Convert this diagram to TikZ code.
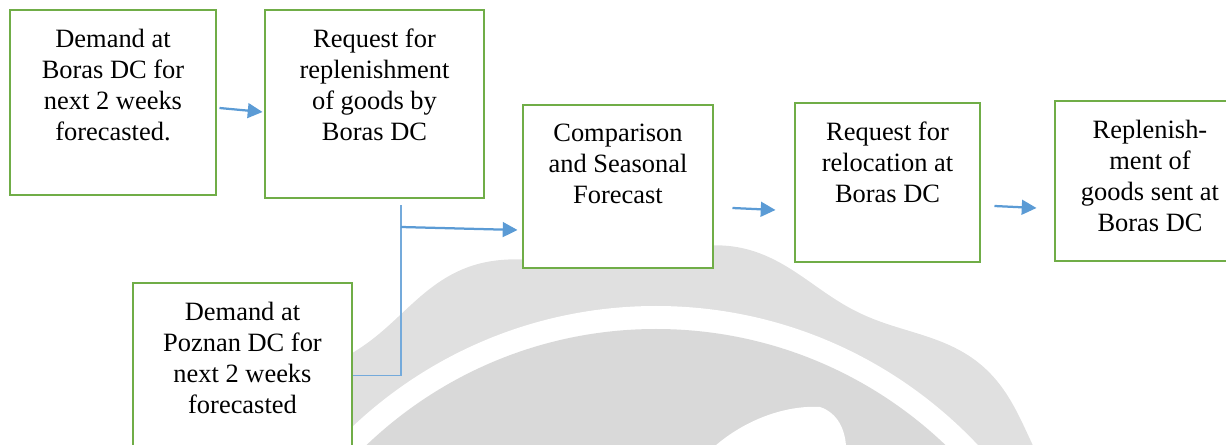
\documentclass[tikz,border=0pt]{standalone}
\usepackage{fontspec}
\setmainfont{Liberation Serif}
\usepackage{tikz}
\usetikzlibrary{positioning,calc,arrows.meta}
\definecolor{boxgreen}{HTML}{70AD47}
\definecolor{flowblue}{HTML}{5B9BD5}
\newcommand{\pxu}{0.025cm}
\tikzset{
  stepbox/.style={draw=boxgreen, line width=2.1pt, fill=white, inner sep=0pt},
  boxtext/.style={align=center, inner sep=0pt, font=\fontsize{18.8}{22}\selectfont},
  flow/.style={draw=flowblue, line width=1.6pt, -{Triangle[length=10.5pt,width=10.5pt]}},
  feed/.style={draw=flowblue!85, line width=0.8pt}
}
\begin{document}
\begin{tikzpicture}[x=0.025cm, y=-0.025cm]
  \useasboundingbox (0,0) rectangle (1226,445);
  \clip (0,0) rectangle (1226,445);
  % Watermark
  \fill[black!12] plot[domain=0:360, samples=361, smooth cycle]
    ({640+(510+12*cos(12*(\x-79)))*cos(\x)}, {760-(510+12*cos(12*(\x-79)))*sin(\x)});
  \fill[white] (656,748) circle (442);
  \fill[black!15] (656,748) circle (419);
  \fill[white] (715,446) .. controls (745,420) and (785,405) .. (820,407)
    .. controls (838,413) and (845,430) .. (846,446) -- cycle;
  % Boxes
  \node[stepbox, minimum width=206*\pxu, minimum height=185*\pxu] (boras) at (113,102.5) {};
  \node[stepbox, minimum width=219*\pxu, minimum height=188*\pxu] (request) at (374.5,104) {};
  \node[stepbox, minimum width=190*\pxu, minimum height=163*\pxu] (compare) at (618,186.5) {};
  \node[stepbox, minimum width=185*\pxu, minimum height=159*\pxu] (relocate) at (887.5,182.5) {};
  \node[stepbox, minimum width=190*\pxu, minimum height=160*\pxu] (replenish) at (1150,181) {};
  \node[stepbox, minimum width=219*\pxu, minimum height=185*\pxu] (poznan) at (242.5,375.5) {};
  % Texts
  \node[boxtext, below=0.51cm of boras.north] (borasT) {Demand at\\Boras DC for\\next 2 weeks\\forecasted.};
  \node[boxtext, below=0.51cm of request.north] (requestT) {Request for\\replenishment\\of goods by\\Boras DC};
  \node[boxtext, below=0.51cm of compare.north] (compareT) {Comparison\\and Seasonal\\Forecast};
  \node[boxtext, below=0.51cm of relocate.north] (relocateT) {Request for\\relocation at\\Boras DC};
  \node[boxtext, below=0.51cm of replenish.north] (replenishT) {Replenish-\\ment of\\goods sent at\\Boras DC};
  \node[boxtext, below=0.51cm of poznan.north] (poznanT) {Demand at\\Poznan DC for\\next 2 weeks\\forecasted};
  % Connectors
  \coordinate (split) at (401,205);
  \coordinate (merge) at (401,227);
  \draw[flow] ($(boras.east)+(2,5.5)$) -- ($(request.west)+(-1,8)$);
  \draw[feed] (poznan.east) -| (split);
  \draw[flow] (merge) -- ($(compare.west)+(-4,43.5)$);
  \draw[flow] ($(compare.east)+(18,21.5)$) -- ($(relocate.west)+(-18,27.5)$);
  \draw[flow] ($(relocate.east)+(13,23.5)$) -- ($(replenish.west)+(-17,27)$);
\end{tikzpicture}
\end{document}
